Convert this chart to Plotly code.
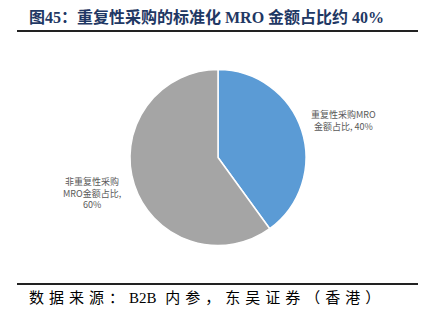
import plotly.graph_objects as go

# Share of standardised MRO spend
labels = ["重复性采购MRO", "非重复性采购MRO"]
values = [40, 60]
colors = ["#5B9BD5", "#A5A5A5"]

title_text = "图45：重复性采购的标准化 MRO 金额占比约 40%"
source_parts = ["数据来源：", "B2B", " 内参，东吴证券（香港）"]

W, H = 425, 327
CJK = "Liberation Serif, Noto Sans CJK SC"
LBL = "Noto Sans CJK SC"

fig = go.Figure(go.Pie(
    labels=labels,
    values=values,
    sort=False,
    direction="clockwise",
    rotation=0,
    marker=dict(colors=colors, line=dict(color="white", width=1.5)),
    textinfo="none",
    hoverinfo="label+percent",
    domain=dict(x=[130 / W, 306 / W], y=[1 - 246 / H, 1 - 69 / H]),
    showlegend=False,
))

total = sum(values)
pct = [round(v / total * 100) for v in values]

# CJK runs of the source line are tracked out; the Latin run is not
source_html = (
    f'<span style="letter-spacing:5px">{source_parts[0]}</span>'
    f'<span style="letter-spacing:0px">{source_parts[1]}</span>'
    f'<span style="letter-spacing:5px">{source_parts[2]}</span>'
)

annotations = [
    dict(text=f"<b>{title_text}</b>", x=27 / W, y=1 - 17 / H, xanchor="left", yanchor="middle",
         showarrow=False, font=dict(family=CJK, size=16, color="#1F3864")),
    dict(text=source_html, x=27 / W, y=1 - 298 / H,
         xanchor="left", yanchor="middle",
         showarrow=False, font=dict(family=CJK, size=15, color="#000000")),
    dict(text=f"{labels[0]}<br>金额占比, {pct[0]}%", x=343 / W, y=1 - 121 / H,
         xanchor="center", yanchor="middle", showarrow=False, align="center",
         font=dict(family=LBL, size=9, color="#595959")),
    dict(text=f"非重复性采购<br>MRO金额占比,<br>{pct[1]}%", x=92 / W, y=1 - 193 / H,
         xanchor="center", yanchor="middle", showarrow=False, align="center",
         font=dict(family=LBL, size=9, color="#595959")),
]

shapes = [
    dict(type="line", xref="paper", yref="paper", x0=17 / W, x1=418 / W,
         y0=1 - 31 / H, y1=1 - 31 / H, line=dict(color="#222222", width=2)),
    dict(type="line", xref="paper", yref="paper", x0=17 / W, x1=418 / W,
         y0=1 - 284 / H, y1=1 - 284 / H, line=dict(color="#222222", width=2)),
]

fig.update_layout(
    width=W, height=H,
    margin=dict(l=0, r=0, t=0, b=0),
    paper_bgcolor="white", plot_bgcolor="white",
    annotations=annotations, shapes=shapes,
)

fig.write_html("out.html")
